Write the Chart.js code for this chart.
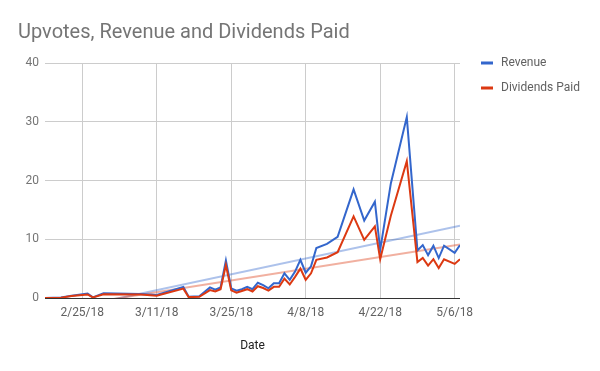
<!DOCTYPE html>
<html>
<head>
<meta charset="utf-8">
<script src="https://cdn.jsdelivr.net/npm/chart.js@4/dist/chart.umd.min.js"></script>
<style>
  html, body { margin: 0; padding: 0; background: #fff; }
  #wrap { width: 600px; height: 371px; }
</style>
</head>
<body>
<div id="wrap"><canvas id="c" width="600" height="371"></canvas></div>
<script>
// ---- data ----
const dates = ['2018-02-18','2018-02-21','2018-02-23','2018-02-26','2018-02-27','2018-03-01','2018-03-08','2018-03-11',
  '2018-03-16','2018-03-17','2018-03-19','2018-03-21','2018-03-22','2018-03-23','2018-03-24','2018-03-25',
  '2018-03-26','2018-03-27','2018-03-28','2018-03-29','2018-03-30','2018-03-31','2018-04-01','2018-04-02',
  '2018-04-03','2018-04-04','2018-04-05','2018-04-06','2018-04-07','2018-04-08','2018-04-09','2018-04-10',
  '2018-04-12','2018-04-14','2018-04-17','2018-04-19','2018-04-21','2018-04-22','2018-04-24','2018-04-27',
  '2018-04-29','2018-04-30','2018-05-01','2018-05-02','2018-05-03','2018-05-04','2018-05-06','2018-05-07'];
const revenue = [0, 0.1, 0.4, 0.75, 0.1, 0.8, 0.7, 0.5,
  1.9, 0.2, 0.3, 1.8, 1.4, 1.8, 6.4, 1.65,
  1.25, 1.5, 1.9, 1.5, 2.6, 2.2, 1.65, 2.5,
  2.5, 4.2, 3.1, 4.5, 6.5, 4.3, 5.4, 8.5,
  9.2, 10.4, 18.5, 13.2, 16.4, 8.2, 19.5, 30.8,
  8.1, 9.0, 7.3, 8.9, 6.8, 8.9, 7.7, 9.0];
const dividends = [0, 0.05, 0.35, 0.6, 0.1, 0.65, 0.6, 0.4,
  1.6, 0.15, 0.2, 1.35, 1.1, 1.5, 5.6, 1.3,
  0.9, 1.2, 1.5, 1.1, 2.0, 1.7, 1.25, 1.9,
  1.9, 3.3, 2.3, 3.6, 5.0, 3.1, 4.2, 6.5,
  6.9, 7.8, 13.9, 9.9, 12.2, 6.6, 14.0, 23.3,
  6.1, 6.8, 5.5, 6.6, 5.1, 6.6, 5.8, 6.6];
// linear trendlines: values at the first and last date
const trendDates = ['2018-02-18', '2018-05-07'];
const revenueTrend = [-2.7, 12.3];
const dividendsTrend = [-2.0, 9.1];
const tickDates = ['2018-02-25','2018-03-11','2018-03-25','2018-04-08','2018-04-22','2018-05-06'];
const yTicks = [0, 10, 20, 30, 40];
const seriesNames = ['Revenue', 'Dividends Paid'];
const titleText = 'Upvotes, Revenue and Dividends Paid';
const xTitle = 'Date';

// ---- helpers ----
const DAY = 86400000;
function toUTC(s) { const p = s.split('-').map(Number); return Date.UTC(p[0], p[1]-1, p[2]); }
const base = toUTC(dates[0]);
const dayOf = s => (toUTC(s) - base) / DAY;
function fmt(day) {
  const d = new Date(base + day * DAY);
  return (d.getUTCMonth()+1) + '/' + d.getUTCDate() + '/' + String(d.getUTCFullYear()).slice(2);
}
const pts = (ds, vs) => ds.map((d, i) => ({x: dayOf(d), y: vs[i]}));

const BLUE = '#3366CC', RED = '#DC3912';
const FONT = 'Roboto, "Noto Sans", sans-serif';

const overlay = {
  id: 'overlay',
  afterDraw(chart) {
    const ctx = chart.ctx;
    ctx.save();
    ctx.font = '20px ' + FONT;
    ctx.fillStyle = '#757575';
    ctx.textBaseline = 'alphabetic';
    ctx.textAlign = 'left';
    ctx.fillText(titleText, 18, 38);
    const cols = [BLUE, RED];
    ctx.font = '12px ' + FONT;
    ctx.textBaseline = 'middle';
    seriesNames.forEach((n, i) => {
      const y = 63 + i * 25;
      ctx.fillStyle = cols[i];
      ctx.fillRect(481, y - 1.5, 12, 3);
      ctx.fillStyle = '#616161';
      ctx.fillText(n, 501, y);
    });
    ctx.restore();
  }
};

new Chart(document.getElementById('c'), {
  type: 'line',
  data: {
    datasets: [
      { label: seriesNames[0], data: pts(dates, revenue), borderColor: BLUE, borderWidth: 2, pointRadius: 0, tension: 0, order: 1 },
      { label: seriesNames[1], data: pts(dates, dividends), borderColor: RED, borderWidth: 2, pointRadius: 0, tension: 0, order: 0 },
      { label: 'rt', data: pts(trendDates, revenueTrend), borderColor: 'rgba(51,102,204,0.4)', borderWidth: 2, pointRadius: 0, order: 3, clip: 0 },
      { label: 'dt', data: pts(trendDates, dividendsTrend), borderColor: 'rgba(220,57,18,0.4)', borderWidth: 2, pointRadius: 0, order: 2, clip: 0 }
    ]
  },
  options: {
    responsive: false,
    animation: false,
    devicePixelRatio: 1,
    layout: { padding: { top: 63, right: 140, left: 0, bottom: 0 } },
    plugins: { legend: { display: false }, title: { display: false }, tooltip: { enabled: false } },
    scales: {
      x: {
        type: 'linear',
        min: 0, max: 78,
        afterFit(s) { s.height = 73; },
        afterBuildTicks(s) { s.ticks = tickDates.map(d => ({ value: dayOf(d) })); },
        ticks: { autoSkip: false, maxRotation: 0, padding: 8, color: '#616161', font: { family: FONT, size: 12 },
                 callback: v => fmt(v) },
        grid: { color: '#cccccc', drawTicks: false },
        border: { display: false },
        title: { display: true, text: xTitle, color: '#222222', font: { family: FONT, size: 12 }, padding: { top: 0, bottom: 18 } }
      },
      y: {
        min: 0, max: 40,
        afterFit(s) { s.width = 45; },
        afterBuildTicks(s) { s.ticks = yTicks.map(v => ({ value: v })); },
        ticks: { padding: 6, color: '#757575', font: { family: FONT, size: 12 } },
        grid: { color: c => (c.tick && c.tick.value === 0) ? '#333333' : '#cccccc', drawTicks: false },
        border: { display: false }
      }
    }
  },
  plugins: [overlay]
});
</script>
</body>
</html>
